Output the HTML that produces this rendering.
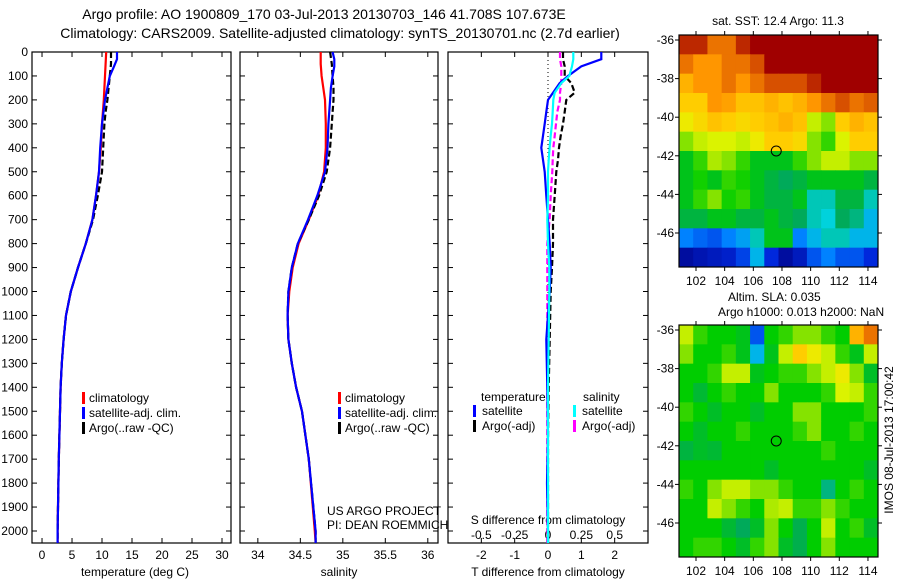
<!DOCTYPE html>
<html><head><meta charset="utf-8"><style>
body{margin:0;background:#fff;}
svg{display:block;font-family:"Liberation Sans",sans-serif;}
</style></head><body>
<svg id="fig" width="900" height="580" xmlns="http://www.w3.org/2000/svg">
<rect width="900" height="580" fill="#fff"/>
<text x="324" y="19" font-size="14" text-anchor="middle">Argo profile: AO 1900809_170 03-Jul-2013 20130703_146 41.708S 107.673E</text>
<text x="340" y="38" font-size="14" text-anchor="middle">Climatology: CARS2009. Satellite-adjusted climatology: synTS_20130701.nc (2.7d earlier)</text>
<g id="g"></g>
</svg>
<script>
// ---- data ----
const depthTicks=[0,100,200,300,400,500,600,700,800,900,1000,1100,1200,1300,1400,1500,1600,1700,1800,1900,2000];
const tTicks=[0,5,10,15,20,25,30];
const sTicks=[34,34.5,35,35.5,36];
const dTTicks=[-2,-1,0,1,2];
const dSTicks=[-0.5,-0.25,0,0.25,0.5];
const dSLabels=["-0.5","-0.25","0","0.25","0.5"];
const climDepth=[0,50,100,150,200,300,400,500,600,700,800,900,1000,1100,1200,1300,1400,1500,1700,2000,2050];
const climT=[10.7,10.6,10.5,10.4,10.3,10.0,9.8,9.5,9.0,8.4,7.3,6.0,4.8,4.0,3.6,3.3,3.1,3.0,2.8,2.6,2.6];
const climS=[34.74,34.74,34.75,34.77,34.79,34.8,34.8,34.78,34.71,34.6,34.48,34.41,34.37,34.35,34.36,34.4,34.45,34.52,34.6,34.67,34.68];
const satDepth=[0,30,60,100,150,200,300,400,500,600,700,800,900,1000,1100,1200,1300,1400,1500,1700,2000,2050];
const satT=[12.5,12.5,12.0,11.3,10.9,10.5,10.0,9.7,9.5,9.0,8.4,7.3,6.0,4.8,4.0,3.6,3.3,3.1,3.0,2.8,2.6,2.6];
const satS=[34.88,34.9,34.9,34.88,34.86,34.85,34.83,34.82,34.79,34.7,34.59,34.47,34.4,34.36,34.35,34.36,34.4,34.45,34.52,34.6,34.68,34.68];
const argoDepth=[0,50,100,150,200,250,300,400,500,600,700,800,900,1000,1100,1200,1300,1400,1500,1700,2000,2050];
const argoT=[11.5,11.5,11.3,11.1,10.9,10.6,10.4,10.2,10.0,9.3,8.5,7.3,6.0,4.8,4.0,3.6,3.3,3.1,3.0,2.8,2.6,2.6];
const argoS=[34.85,34.87,34.88,34.89,34.89,34.88,34.87,34.85,34.81,34.72,34.6,34.47,34.4,34.36,34.35,34.36,34.4,34.45,34.52,34.6,34.68,34.68];
const dDepth=[0,30,60,100,130,170,200,250,300,350,400,450,500,600,700,800,900,1000,1200,1400,1600,1800,2000,2050];
const dTsat=[1.6,1.6,1.0,0.6,0.35,0.15,0.0,-0.05,-0.1,-0.15,-0.2,-0.15,-0.1,-0.05,0.0,0.05,0.08,0.05,-0.05,-0.02,0.0,-0.03,0.0,0.0];
const dTargo=[0.45,0.45,0.5,0.5,0.7,0.8,0.55,0.5,0.45,0.38,0.33,0.3,0.25,0.2,0.15,0.15,0.12,0.08,0.05,0.02,0.0,0.0,0.0,0.0];
const dSsat=[0.19,0.19,0.18,0.16,0.1,0.05,0.04,0.035,0.03,0.02,0.012,0.005,0.0,0.0,-0.005,0.0,0.01,0.01,0.005,0.0,0.0,0.0,0.0,0.0];
const dSargo=[0.09,0.09,0.1,0.1,0.1,0.09,0.09,0.07,0.06,0.05,0.04,0.035,0.032,0.02,0.012,-0.005,-0.005,-0.005,-0.005,-0.005,-0.005,-0.005,-0.005,-0.005];
const lonTicks=[102,104,106,108,110,112,114];
const latTicks=[-36,-38,-40,-42,-44,-46];
const sstGrid=[
[0.95,0.95,0.85,0.85,0.95,1,1,1,1,1,1,1,1,1],
[0.85,0.8,0.8,0.85,0.85,0.9,1,1,1,1,1,1,1,1],
[0.75,0.8,0.8,0.85,0.8,0.85,0.9,0.9,0.9,0.95,1,1,1,1],
[0.7,0.7,0.8,0.78,0.72,0.72,0.75,0.72,0.75,0.8,0.85,0.9,0.85,0.88],
[0.65,0.68,0.72,0.7,0.68,0.7,0.72,0.75,0.72,0.6,0.55,0.7,0.75,0.72],
[0.55,0.6,0.62,0.62,0.6,0.65,0.7,0.7,0.68,0.55,0.5,0.62,0.7,0.7],
[0.45,0.5,0.58,0.55,0.5,0.45,0.45,0.45,0.5,0.55,0.6,0.6,0.55,0.55],
[0.45,0.48,0.45,0.5,0.48,0.45,0.42,0.4,0.42,0.45,0.45,0.45,0.45,0.42],
[0.45,0.5,0.55,0.48,0.5,0.45,0.42,0.42,0.45,0.35,0.35,0.42,0.42,0.35],
[0.42,0.42,0.45,0.45,0.42,0.42,0.45,0.42,0.4,0.35,0.33,0.4,0.38,0.3],
[0.25,0.22,0.2,0.25,0.28,0.35,0.45,0.45,0.25,0.3,0.35,0.35,0.3,0.3],
[0.05,0.08,0.1,0.12,0.18,0.3,0.15,0.05,0.1,0.2,0.25,0.2,0.2,0.15]];
const slaGrid=[
[0.6,0.5,0.47,0.47,0.45,0.2,0.47,0.5,0.55,0.55,0.5,0.47,0.75,0.85],
[0.55,0.47,0.47,0.5,0.45,0.3,0.45,0.6,0.7,0.65,0.6,0.5,0.45,0.6],
[0.47,0.47,0.5,0.6,0.6,0.45,0.47,0.5,0.5,0.55,0.6,0.65,0.55,0.44],
[0.47,0.43,0.47,0.5,0.47,0.47,0.55,0.47,0.47,0.47,0.5,0.62,0.6,0.5],
[0.5,0.47,0.44,0.47,0.47,0.44,0.47,0.47,0.55,0.55,0.47,0.47,0.47,0.5],
[0.47,0.44,0.47,0.47,0.5,0.47,0.47,0.47,0.5,0.55,0.47,0.47,0.5,0.47],
[0.42,0.44,0.43,0.47,0.47,0.47,0.47,0.47,0.47,0.47,0.5,0.47,0.47,0.47],
[0.47,0.47,0.47,0.47,0.47,0.47,0.44,0.47,0.47,0.47,0.47,0.47,0.47,0.44],
[0.5,0.47,0.55,0.6,0.6,0.55,0.55,0.5,0.47,0.47,0.38,0.47,0.5,0.47],
[0.47,0.47,0.6,0.55,0.5,0.47,0.58,0.6,0.5,0.5,0.55,0.5,0.47,0.47],
[0.47,0.47,0.47,0.43,0.4,0.44,0.55,0.47,0.41,0.47,0.6,0.47,0.5,0.44],
[0.47,0.5,0.5,0.47,0.44,0.5,0.55,0.44,0.41,0.47,0.55,0.47,0.47,0.47]];
const floatLon=107.6, floatLat=-41.75;

// ---- helpers ----
const NS="http://www.w3.org/2000/svg";
const G=document.getElementById('g');
function mk(tag,attrs,parent){const e=document.createElementNS(NS,tag);for(const k in attrs)e.setAttribute(k,attrs[k]);(parent||G).appendChild(e);return e;}
function txt(x,y,s,size,anchor,name){const t=mk('text',{x:x,y:y,'font-size':size,'text-anchor':anchor||'middle'});t.textContent=s;


return t;}
const top0=52, bot=543;
const yD=d=>top0+d*0.2395;
function panel(x0,x1,xmin,xmax,name){
  const sx=v=>x0+(v-xmin)/(xmax-xmin)*(x1-x0);
  const r=mk('rect',{x:x0,y:top0,width:x1-x0,height:bot-top0,fill:'none',stroke:'#000','stroke-width':1.2});
  
  
  depthTicks.forEach(d=>{mk('line',{x1:x0,x2:x0+5,y1:yD(d),y2:yD(d),stroke:'#000'});mk('line',{x1:x1-5,x2:x1,y1:yD(d),y2:yD(d),stroke:'#000'});});
  return sx;
}
function line(sx,xs,ds,color,dash,name,w){
  const p=xs.map((v,i)=>sx(v).toFixed(1)+','+yD(ds[i]).toFixed(1)).join(' ');
  const l=mk('polyline',{points:p,fill:'none',stroke:color,'stroke-width':w||2.2});
  if(dash)l.setAttribute('stroke-dasharray',dash);
  
  
}
// panel 1
const sx1=panel(32,231,-1.67,31.5,'temperature-panel');
depthTicks.forEach(d=>txt(28,yD(d)+4,String(d),12,'end','depth-tick-label'));
tTicks.forEach(v=>{mk('line',{x1:sx1(v),x2:sx1(v),y1:bot,y2:bot-5,stroke:'#000'});mk('line',{x1:sx1(v),x2:sx1(v),y1:top0,y2:top0+5,stroke:'#000'});txt(sx1(v),559,String(v),12,'middle','temp-tick-label');});
txt(135,576,'temperature (deg C)',12,'middle','temperature-axis-title');
line(sx1,climT,climDepth,'#f00',null,'temp-climatology-line');
line(sx1,argoT,argoDepth,'#000','6,3','temp-argo-line');
line(sx1,satT,satDepth,'#00f',null,'temp-satellite-line');
// panel 2
const sx2=panel(240,438,33.79,36.12,'salinity-panel');
sTicks.forEach(v=>{mk('line',{x1:sx2(v),x2:sx2(v),y1:bot,y2:bot-5,stroke:'#000'});mk('line',{x1:sx2(v),x2:sx2(v),y1:top0,y2:top0+5,stroke:'#000'});txt(sx2(v),559,String(v),12,'middle','sal-tick-label');});
txt(339,576,'salinity',12,'middle','salinity-axis-title');
line(sx2,climS,climDepth,'#f00',null,'sal-climatology-line');
line(sx2,argoS,argoDepth,'#000','6,3','sal-argo-line');
line(sx2,satS,satDepth,'#00f',null,'sal-satellite-line');
txt(327,515,'US ARGO PROJECT',12,'start','project-label');
txt(327,529,'PI: DEAN ROEMMICH',12,'start','pi-label');
function legend(x,y){
  [['#f00','climatology'],['#00f','satellite-adj. clim.'],['#000','Argo(..raw -QC)']].forEach((e,i)=>{
    mk('rect',{x:x,y:y+i*15-10,width:3,height:12,fill:e[0]});txt(x+7,y+i*15,e[1],12,'start','legend-entry');});
}
legend(82,402);legend(338,402);
// panel 3
const sx3=panel(448,648,-3,3,'difference-panel');
const sx3s=v=>sx3(v*4);
mk('line',{x1:sx3(0),x2:sx3(0),y1:top0,y2:bot,stroke:'#000','stroke-dasharray':'1,3'});
dTTicks.forEach(v=>{mk('line',{x1:sx3(v),x2:sx3(v),y1:bot,y2:bot-5,stroke:'#000'});mk('line',{x1:sx3(v),x2:sx3(v),y1:top0,y2:top0+5,stroke:'#000'});txt(sx3(v),559,String(v),12,'middle','dT-tick-label');});
dSTicks.forEach((v,i)=>txt(sx3s(v),539,dSLabels[i],12,'middle','dS-tick-label'));
txt(548,524,'S difference from climatology',12,'middle','dS-axis-title');
txt(548,576,'T difference from climatology',12,'middle','dT-axis-title');
line(sx3s,dSargo,dDepth,'#f0f','6,3','dS-argo-line');
line(sx3,dTargo,dDepth,'#000','6,3','dT-argo-line');
line(sx3,dTsat,dDepth,'#00f',null,'dT-satellite-line');
line(sx3s,dSsat,dDepth,'#0ff',null,'dS-satellite-line');
txt(481,401,'temperature',12,'start','legend-temperature-header');
txt(583,401,'salinity',12,'start','legend-salinity-header');
[['#00f','satellite',473,415],['#000','Argo(-adj)',473,430],['#0ff','satellite',573,415],['#f0f','Argo(-adj)',573,430]].forEach(e=>{
  mk('rect',{x:e[2],y:e[3]-10,width:3,height:12,fill:e[0]});txt(e[2]+9,e[3],e[1],12,'start','legend-entry');});
// maps
const stops=[[0,[0,0,128]],[0.15,[0,40,220]],[0.25,[0,130,255]],[0.33,[0,210,220]],[0.4,[0,170,90]],[0.47,[0,205,0]],[0.56,[150,230,0]],[0.63,[230,245,0]],[0.7,[255,205,0]],[0.8,[255,150,0]],[0.9,[215,80,0]],[1,[160,0,0]]];
function cmap(v){for(let i=1;i<stops.length;i++){if(v<=stops[i][0]){const a=stops[i-1],b=stops[i],t=(v-a[0])/(b[0]-a[0]);return 'rgb('+a[1].map((c,k)=>Math.round(c+(b[1][k]-c)*t)).join(',')+')';}}return 'rgb(160,0,0)';}
function map(grid,y0,name){
  const x0=679,x1=878,y1=y0+232;
  const lx=l=>696+(l-102)*14.33, ly=l=>y0+5+(-36-l)*19.3;
  const rows=grid.length,cols=grid[0].length,cw=(x1-x0)/cols,ch=(y1-y0)/rows;
  grid.forEach((row,r)=>row.forEach((v,c)=>{const e=mk('rect',{x:(x0+c*cw).toFixed(2),y:(y0+r*ch).toFixed(2),width:(cw+0.5).toFixed(2),height:(ch+0.5).toFixed(2),fill:cmap(v)});
    
    }));
  const f=mk('rect',{x:x0,y:y0,width:x1-x0,height:y1-y0,fill:'none',stroke:'#000','stroke-width':1.2});
  
  
  lonTicks.forEach(l=>{mk('line',{x1:lx(l),x2:lx(l),y1:y0,y2:y0-4,stroke:'#000'});mk('line',{x1:lx(l),x2:lx(l),y1:y1,y2:y1+4,stroke:'#000'});txt(lx(l),y1+18,String(l),12,'middle','lon-tick-label');});
  latTicks.forEach(l=>{mk('line',{x1:x0,x2:x0-4,y1:ly(l),y2:ly(l),stroke:'#000'});mk('line',{x1:x1,x2:x1+4,y1:ly(l),y2:ly(l),stroke:'#000'});txt(674,ly(l)+4,String(l),12,'end','lat-tick-label');});
  const c=mk('circle',{cx:lx(floatLon),cy:ly(floatLat),r:5,fill:'none',stroke:'#000','stroke-width':1});
  
  
}
map(sstGrid,35,'sst-map');
map(slaGrid,325,'sla-map');
txt(778,25,'sat. SST: 12.4 Argo: 11.3',12,'middle','sst-map-title');
txt(728,301,'Altim. SLA: 0.035',12,'start','sla-map-title');
txt(718,316,'Argo h1000: 0.013 h2000: NaN',12,'start','sla-map-subtitle');
const r=txt(0,0,'IMOS 08-Jul-2013 17:00:42',12,'middle','timestamp-label');
r.setAttribute('transform','translate(893,440) rotate(-90)');
</script>
</body></html>
